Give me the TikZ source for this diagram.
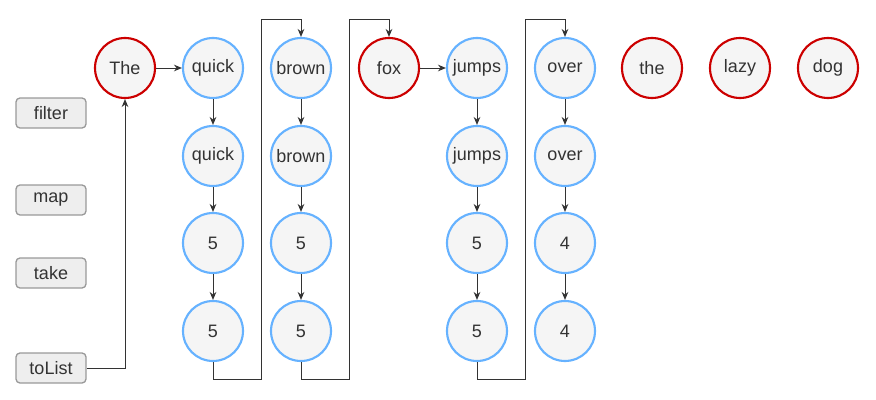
\documentclass[tikz,border=0pt]{standalone}
\usepackage{fontspec}
\setmainfont{Liberation Sans}
\usetikzlibrary{arrows.meta}

\definecolor{keepblue}{HTML}{66B2FF}
\definecolor{dropred}{HTML}{CC0000}
\definecolor{wordfill}{HTML}{F5F5F5}
\definecolor{opfill}{HTML}{EEEEEE}
\definecolor{opline}{HTML}{999999}
\definecolor{ink}{HTML}{333333}

\begin{document}
\begin{tikzpicture}[x=0.75pt, y=-0.75pt, font=\fontsize{13.5}{16}\selectfont, text=ink,
    word/.style={draw, circle, line width=1.6pt, fill=wordfill, minimum size=45pt, inner sep=0pt},
    kept/.style={word, draw=keepblue},
    dropped/.style={word, draw=dropred},
    op/.style={draw=opline, fill=opfill, rounded corners=3pt, line width=1pt, minimum width=52.5pt, minimum height=22.5pt},
    flow/.style={-{Stealth[length=6pt, width=5pt]}, line width=0.75pt, draw=ink}]

    \useasboundingbox (0,0) rectangle (876,400);

    % operations
    \node [op] (filter) at (51,113) {filter};
    \node [op] (map) at (51,200) {map};
    \node [op] (take) at (51,273) {take};
    \node [op] (toList) at (51,368) {toList};

    % words that never pass
    \node [dropped] (The) at (125,68) {The};
    \node [dropped] (fox) at (389,68) {fox};
    \node [dropped] (the) at (652,68) {the};
    \node [dropped] (lazy) at (740,68) {lazy};
    \node [dropped] (dog) at (828,68) {dog};

    % words that pass, one column each
    \foreach \w/\x/\a/\b in {quick/213/quick/5, brown/301/brown/5, jumps/477/jumps/5, over/565/over/4} {
        \node [kept] (\w1) at (\x,68) {\a};
        \node [kept] (\w2) at (\x,156) {\a};
        \node [kept] (\w3) at (\x,243) {\b};
        \node [kept] (\w4) at (\x,331) {\b};
        \draw [flow] (\w1) -- (\w2);
        \draw [flow] (\w2) -- (\w3);
        \draw [flow] (\w3) -- (\w4);
    }

    \draw [flow] (toList.east) -| (The.south);
    \draw [flow] (The) -- (quick1);
    \draw [flow] (fox) -- (jumps1);
    % back to the top
    \draw [flow] (quick4.south) -- ++(0,17) -| ++(48,-360) -| (brown1.north);
    \draw [flow] (brown4.south) -- ++(0,17) -| ++(48,-360) -| (fox.north);
    \draw [flow] (jumps4.south) -- ++(0,17) -| ++(48,-360) -| (over1.north);

\end{tikzpicture}
\end{document}
